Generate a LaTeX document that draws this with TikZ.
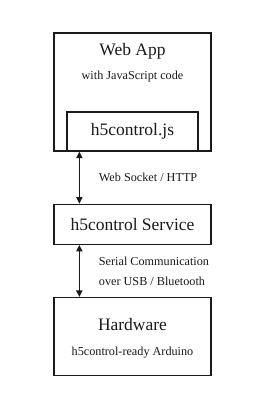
\documentclass[tikz,border=0pt]{standalone}
\usepackage{fontspec}
\setmainfont{Liberation Serif}
\usetikzlibrary{arrows.meta,positioning}
\definecolor{cInk}{HTML}{1A1A1A}
\tikzset{
  frame/.style={draw=cInk, line width=1.3pt, inner sep=0pt, minimum width=157pt, text=cInk},
  big/.style={font=\fontsize{17.5}{21}\selectfont, text=cInk},
  small/.style={font=\fontsize{12.2}{14}\selectfont, text=cInk},
  link/.style={{Triangle[length=2.3mm,width=2.2mm]}-{Triangle[length=2.3mm,width=2.2mm]}, line width=1.2pt, draw=cInk},
  lbl/.style={font=\fontsize{12.2}{20}\selectfont, text=cInk, align=left, inner sep=0pt},
}

\begin{document}
\begin{tikzpicture}[x=1pt, y=1pt, node distance=52pt]
  \useasboundingbox (0,0) rectangle (261,400);
  % web app with the js part
  \node[frame, minimum height=118pt] (web) at (132.5,308) {};
  \node[big, anchor=base] (webt) at ([yshift=-23pt]web.north) {Web App};
  \node[small, anchor=base] (webs) at ([yshift=-47pt]web.north) {with JavaScript code};
  \node[frame, big, minimum width=131pt, minimum height=39pt, anchor=south] (js) at (web.south) {h5control.js};
  % service and hardware
  \node[frame, big, minimum height=40pt, below=of web] (svc) {h5control Service};
  \node[frame, minimum height=78pt, below=of svc] (hw) {};
  \node[big, anchor=base] (hwt) at ([yshift=-34pt]hw.north) {Hardware};
  \node[small, anchor=base] (hws) at ([yshift=-59pt]hw.north) {h5control-ready Arduino};
  % links
  \draw[link] ([xshift=26pt]web.south west) -- ([xshift=26pt]svc.north west)
    node[lbl, midway, right=19pt] {Web Socket / HTTP};
  \draw[link] ([xshift=26pt]svc.south west) -- ([xshift=26pt]hw.north west)
    node[lbl, midway, right=19pt] {Serial Communication\\over USB / Bluetooth};
\end{tikzpicture}
\end{document}
